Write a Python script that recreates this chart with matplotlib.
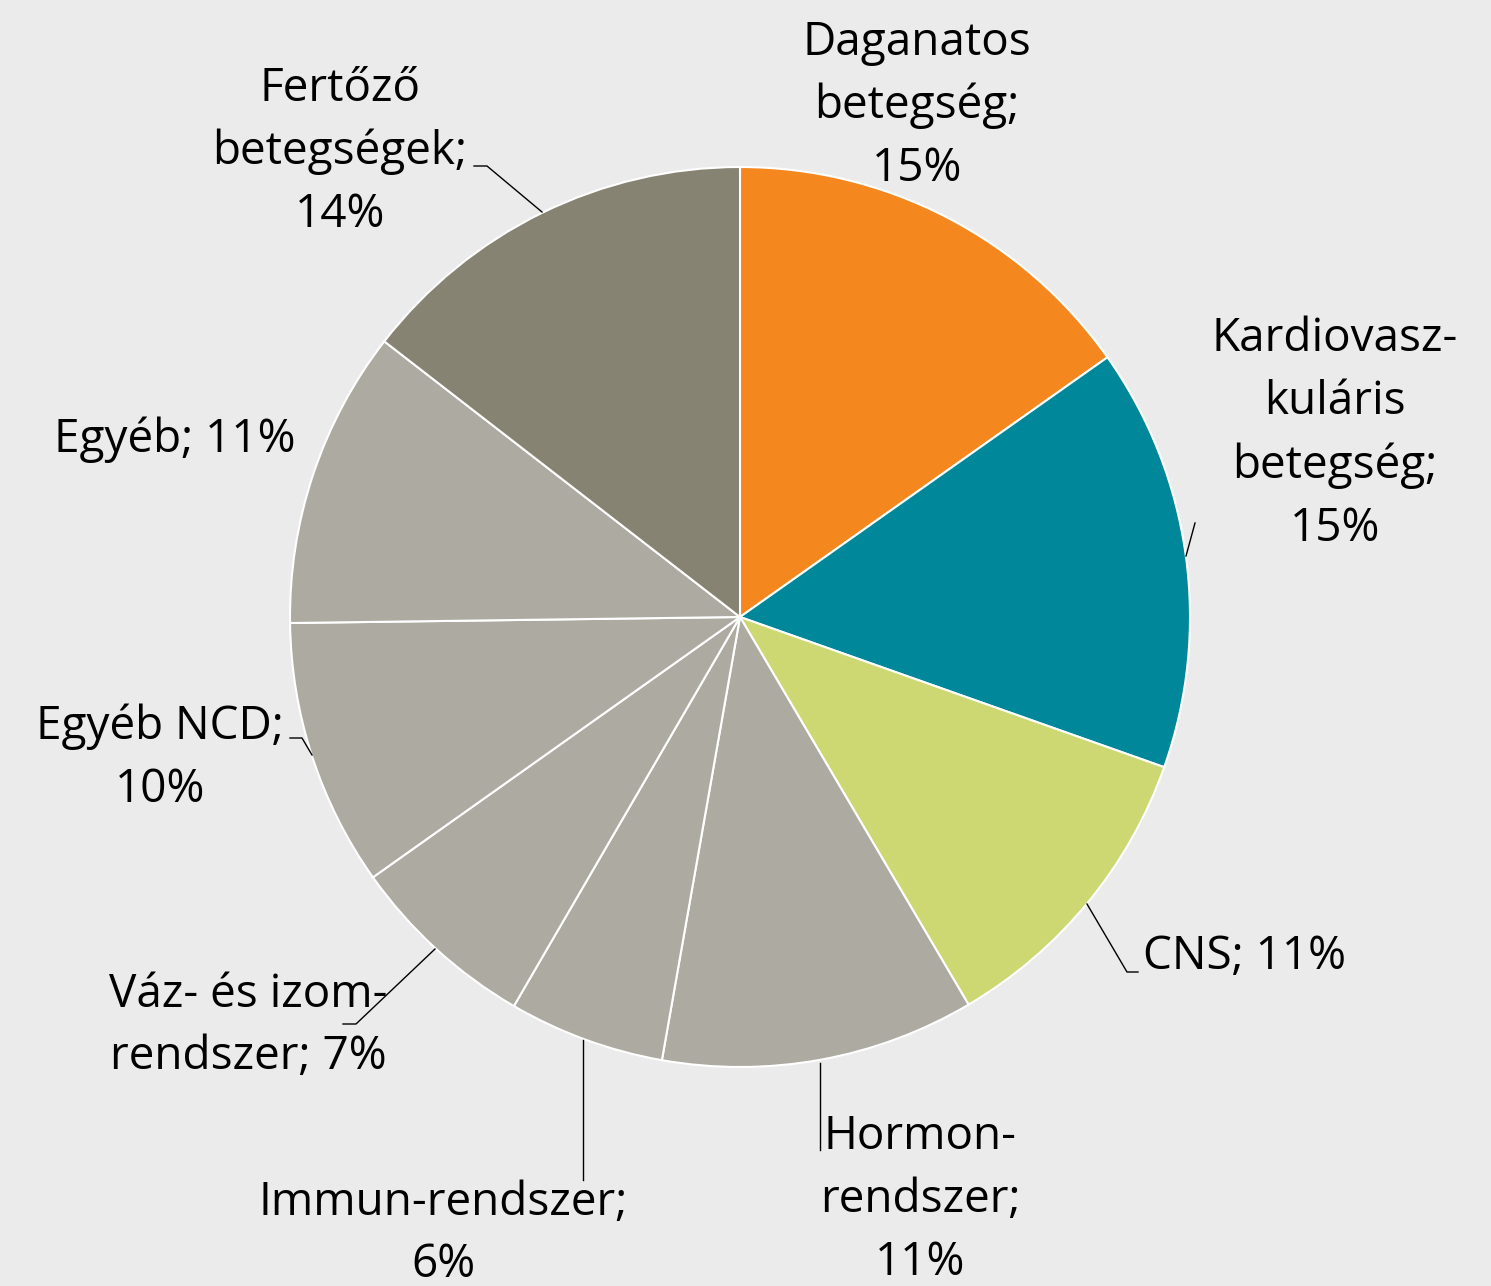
import matplotlib
matplotlib.use('Agg')
import matplotlib.pyplot as plt

plt.rcParams['font.family'] = ['Open Sans', 'DejaVu Sans']

# adatok
kategoriak = ['Daganatos\nbetegség', 'Kardiovasz-\nkuláris\nbetegség', 'CNS', 'Hormon-\nrendszer',
              'Immun-rendszer', 'Váz- és izom-\nrendszer', 'Egyéb NCD', 'Egyéb', 'Fertőző\nbetegségek']
ertekek = [15.2, 15.2, 11.1, 11.25, 5.6, 6.8, 9.6, 10.7, 14.5]
szinek = ['#F5871F', '#00889A', '#CDD873', '#ACAAA1', '#ACAAA1', '#ACAAA1', '#ACAAA1', '#ACAAA1', '#868373']
# elválasztó a név és a százalék között
elvalaszto = ['\n', '\n', ' ', '\n', '\n', ' ', '\n', ' ', '\n']

W, H = 1491, 1286
CX, CY, R = 740, 617, 450


def px(x, y):
    return (x - CX) / R, (CY - y) / R


fig = plt.figure(figsize=(W / 100, H / 100), dpi=100, facecolor='#EBEBEB')
ax = fig.add_axes([0, 0, 1, 1])
ax.set_facecolor('#EBEBEB')

ax.pie(ertekek, colors=szinek, startangle=90, counterclock=False, radius=1,
       wedgeprops={'edgecolor': 'white', 'linewidth': 1.5})

x0, y0 = px(0, H)
x1, y1 = px(W, 0)
ax.set_xlim(x0, x1)
ax.set_ylim(y0, y1)
ax.set_aspect('equal')
ax.axis('off')

# címkék helye (pixel)
cimke_hely = [(917, 106), (1335, 434), (1245, 957), (920, 1200), (443, 1234),
              (248, 1026), (160, 758), (175, 440), (340, 152)]
for nev, v, sep, (lx, ly) in zip(kategoriak, ertekek, elvalaszto, cimke_hely):
    szoveg = f'{nev};{sep}{round(v)}%'
    tx, ty = px(lx, ly)
    ax.text(tx, ty, szoveg, ha='center', va='center', fontsize=33,
            linespacing=1.48, color='black')

# vezetővonalak
vonalak = [
    [(1195, 523), (1186, 556)],
    [(1087, 904), (1127, 972), (1138, 972)],
    [(820, 1063), (820, 1150)],
    [(583, 1040), (583, 1180)],
    [(435, 949), (356, 1024), (343, 1024)],
    [(290, 738), (302, 738), (312, 755)],
    [(474, 166), (487, 166), (542, 212)],
]
for v in vonalak:
    xs, ys = zip(*[px(a, b) for a, b in v])
    ax.plot(xs, ys, color='black', linewidth=1)

fig.savefig('out.png', dpi=100, facecolor=fig.get_facecolor())
